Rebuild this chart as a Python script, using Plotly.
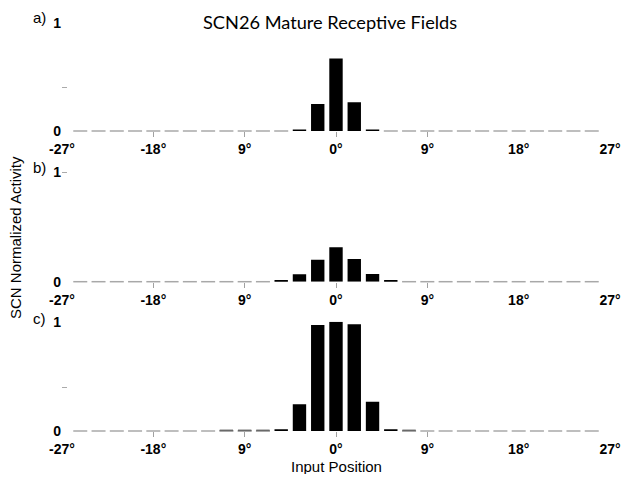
import plotly.graph_objects as go

# ---- data ----
positions = [-25.2, -23.4, -21.6, -19.8, -18.0, -16.2, -14.4, -12.6, -10.8, -9.0,
             -7.2, -5.4, -3.6, -1.8, 0.0, 1.8, 3.6, 5.4, 7.2, 9.0,
             10.8, 12.6, 14.4, 16.2, 18.0, 19.8, 21.6, 23.4, 25.2]

activity_a = [0, 0, 0, 0, 0, 0, 0, 0, 0, 0,
              0, 0, 0.015, 0.25, 0.67, 0.265, 0.015, 0, 0, 0,
              0, 0, 0, 0, 0, 0, 0, 0, 0]
activity_b = [0, 0, 0, 0, 0, 0, 0, 0, 0, 0,
              0, 0.015, 0.068, 0.20, 0.314, 0.207, 0.07, 0.015, 0, 0,
              0, 0, 0, 0, 0, 0, 0, 0, 0]
activity_c = [0, 0, 0, 0, 0, 0, 0, 0, 0.004, 0.004,
              0.004, 0.015, 0.244, 0.97, 1.0, 0.976, 0.268, 0.015, 0.004, 0,
              0, 0, 0, 0, 0, 0, 0, 0, 0]

x_tick_vals = [-27, -18, -9, 0, 9, 18, 27]
x_tick_text = ["-27°", "-18°", "9°", "0°", "9°", "18°", "27°"]
x_tick_marks = [-18, -9, 0, 9]
y_tick_vals = [0, 1]
y_tick_text = ["0", "1"]
panel_labels = ["a)", "b)", "c)"]
title_text = "SCN26 Mature Receptive Fields"
x_title = "Input Position"
y_title = "SCN Normalized Activity"

# page body has an 8px margin; figure is sized to fit inside the 629x482 window
OX, OY = 8, 8
FW, FH = 629 - 2 * OX, 482 - 2 * OY


def px(x):
    return (x - OX) / FW


def py(y):
    return 1 - (y - OY) / FH


# pixel layout of each panel (window coords): (top px for value 1, bottom px for value 0)
panel_px = [(22.7, 131.0), (172.3, 281.7), (321.7, 431.0)]
minor_ticks = [[0.4], [1], [0.4]]
x_left, x_right = 62, 610

fig = go.Figure()
series = [activity_a, activity_b, activity_c]
for i, vals in enumerate(series):
    n = "" if i == 0 else str(i + 1)
    fig.add_trace(go.Bar(x=positions, y=vals, width=1.32,
                         marker=dict(color="black", line=dict(width=0)),
                         xaxis="x" + n, yaxis="y" + n, showlegend=False))
    zx = [p for p, v in zip(positions, vals) if v < 0.01]
    zc = ["#a8a8a8" if v == 0 else "#8c8c8c" for v in vals if v < 0.01]
    fig.add_trace(go.Scatter(x=zx, y=[0] * len(zx), mode="markers", cliponaxis=False,
                             marker=dict(symbol="line-ew", size=10,
                                         line=dict(width=1.5, color=zc)),
                             xaxis="x" + n, yaxis="y" + n, showlegend=False))
    top, bot = panel_px[i]
    fig.layout["xaxis" + n] = dict(
        domain=[px(x_left), px(x_right)], range=[-27, 27], automargin=False,
        anchor="y" + n, showgrid=False, zeroline=False, showline=False,
        tickvals=x_tick_vals, ticktext=x_tick_text, ticks="outside",
        ticklen=5, tickcolor="rgba(0,0,0,0)", tickwidth=1,
        tickfont=dict(family="Arial, Liberation Sans", size=14, color="black", weight="bold"),
        minor=dict(tickvals=x_tick_marks, ticks="outside", ticklen=5,
                   tickcolor="#a0a0a0", tickwidth=1, showgrid=False),
    )
    fig.layout["yaxis" + n] = dict(
        domain=[py(bot), py(top)], range=[0, 1], automargin=False,
        anchor="x" + n, showgrid=False, zeroline=False, showline=False,
        tickvals=y_tick_vals, ticktext=y_tick_text, ticks="",
        tickfont=dict(family="Arial, Liberation Sans", size=14, color="black", weight="bold"),
        minor=dict(tickvals=minor_ticks[i], ticks="inside", ticklen=5,
                   tickcolor="#aaaaaa", tickwidth=1, showgrid=False),
    )

annotations = [
    dict(text=title_text, x=px(330), y=py(22), xref="paper", yref="paper",
         showarrow=False, xanchor="center", yanchor="middle",
         font=dict(family="Lato", size=18.2, color="black")),
    dict(text=y_title, x=px(15), y=py(238), xref="paper", yref="paper",
         showarrow=False, xanchor="center", yanchor="middle", textangle=-90,
         font=dict(family="Arial, Liberation Sans", size=15, color="black")),
    dict(text=x_title, x=px(336), y=py(466), xref="paper", yref="paper",
         showarrow=False, xanchor="center", yanchor="middle",
         font=dict(family="Arial, Liberation Sans", size=15, color="black")),
]
label_y = [17, 167, 318]
for lab, ly in zip(panel_labels, label_y):
    annotations.append(dict(text=lab, x=px(39), y=py(ly), xref="paper", yref="paper",
                            showarrow=False, xanchor="center", yanchor="middle",
                            font=dict(family="Arial, Liberation Sans", size=15, color="black")))

fig.update_layout(width=FW, height=FH, margin=dict(l=0, r=0, t=0, b=0),
                  plot_bgcolor="white", paper_bgcolor="white",
                  annotations=annotations, bargap=0.27)

fig.write_html("out.html")
